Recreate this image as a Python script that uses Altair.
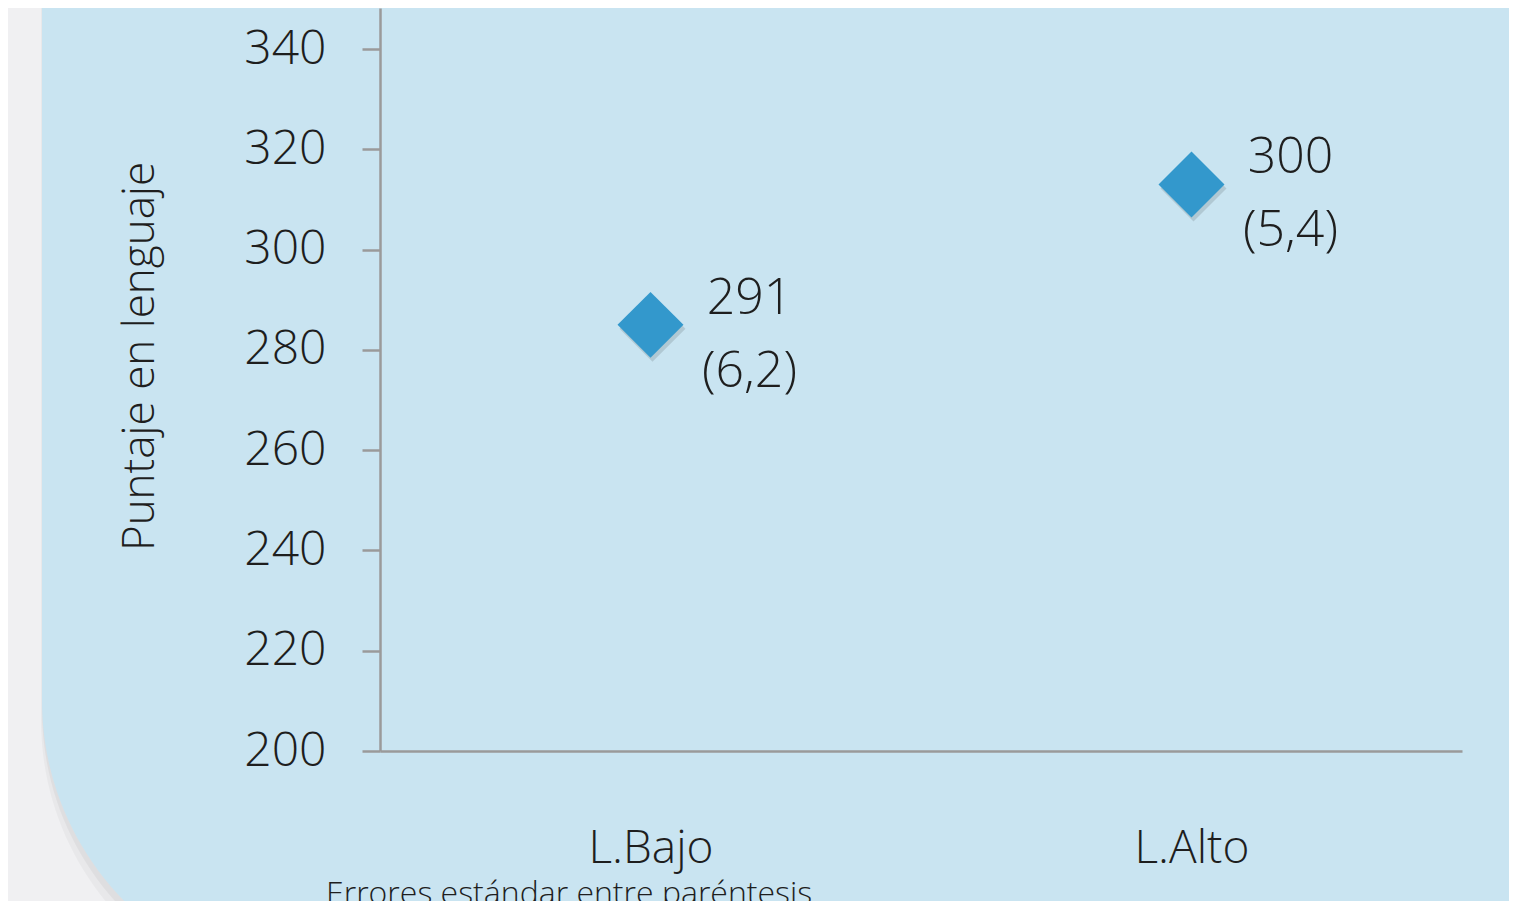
import altair as alt
import pandas as pd

categories = ["L.Bajo", "L.Alto"]
scores = [285, 313]
label_top = ["291", "300"]
label_bottom = ["(6,2)", "(5,4)"]
y_title = "Puntaje en lenguaje"
note = "Errores estándar entre paréntesis"

FONT = "Open Sans"
TXT = "#1e1e1e"

df = pd.DataFrame({
    "cat": categories,
    "score": scores,
    "lab": [[a, b] for a, b in zip(label_top, label_bottom)],
})

x_enc = alt.X("cat:N", sort=categories,
              scale=alt.Scale(type="point", padding=0.5),
              axis=alt.Axis(title=None, ticks=False, tickSize=0, labelAngle=0,
                            labelPadding=75, labelFontSize=46, labelFont=FONT,
                            labelFontWeight=300, labelColor=TXT,
                            domainColor="#9a9a9a", domainWidth=2.5, zindex=1))
y_enc = alt.Y("score:Q",
              scale=alt.Scale(domain=[200, 348.2], nice=False, zero=False),
              axis=alt.Axis(values=[200, 220, 240, 260, 280, 300, 320, 340],
                            title=y_title, titleFont=FONT, titleFontSize=44,
                            titleFontWeight=300, titleColor=TXT,
                            titleAngle=270, titleAlign="center", titleBaseline="middle",
                            titleX=-240, titleY=348,
                            grid=False, tickSize=18, tickColor="#9a9a9a", tickWidth=2.5,
                            labelPadding=36, labelFontSize=48, labelFont=FONT,
                            labelFontWeight=300, labelColor=TXT,
                            domainColor="#9a9a9a", domainWidth=2.5, zindex=1))

one = alt.Data(values=[{"k": 1}])

panel_shadow1 = alt.Chart(one).mark_rect(
    color="#000000", opacity=0.03, cornerRadiusBottomLeft=287
).encode(x=alt.value(-339), x2=alt.value(1300), y=alt.value(-100), y2=alt.value(999))

panel_shadow2 = alt.Chart(one).mark_rect(
    color="#000000", opacity=0.04, cornerRadiusBottomLeft=287
).encode(x=alt.value(-338), x2=alt.value(1300), y=alt.value(-100), y2=alt.value(989))

panel = alt.Chart(one).mark_rect(
    color="#c9e4f1", cornerRadiusBottomLeft=287
).encode(x=alt.value(-338), x2=alt.value(1300), y=alt.value(-100), y2=alt.value(979))

shadow = alt.Chart(df).mark_point(
    shape="diamond", filled=True, size=4350, color="#000000", opacity=0.12,
    xOffset=2, yOffset=4, strokeWidth=0
).encode(x=x_enc, y=y_enc)

points = alt.Chart(df).mark_point(
    shape="diamond", filled=True, size=4350, color="#3398cc", opacity=1, strokeWidth=0
).encode(x=x_enc, y=y_enc)

labels = alt.Chart(df).mark_text(
    align="center", baseline="middle", dx=99, dy=-26, lineHeight=73,
    fontSize=50, font=FONT, fontWeight=300, color=TXT
).encode(x=x_enc, y=y_enc, text="lab")

foot = alt.Chart(alt.Data(values=[{"t": note}])).mark_text(
    align="left", baseline="top", fontSize=32, font=FONT, fontWeight=300, color=TXT
).encode(x=alt.value(-54), y=alt.value(871), text="t:N")

chart = alt.layer(panel_shadow1, panel_shadow2, panel, shadow, points, labels, foot).properties(
    width=1082, height=743,
    autosize=alt.AutoSizeParams(type="none"),
    padding={"left": 372, "top": 0, "right": 47, "bottom": 150},
    background="#f0f0f2",
).configure_view(stroke=None, fill=None)

chart.save("out.html", embed_options={"renderer": "svg", "actions": False})
